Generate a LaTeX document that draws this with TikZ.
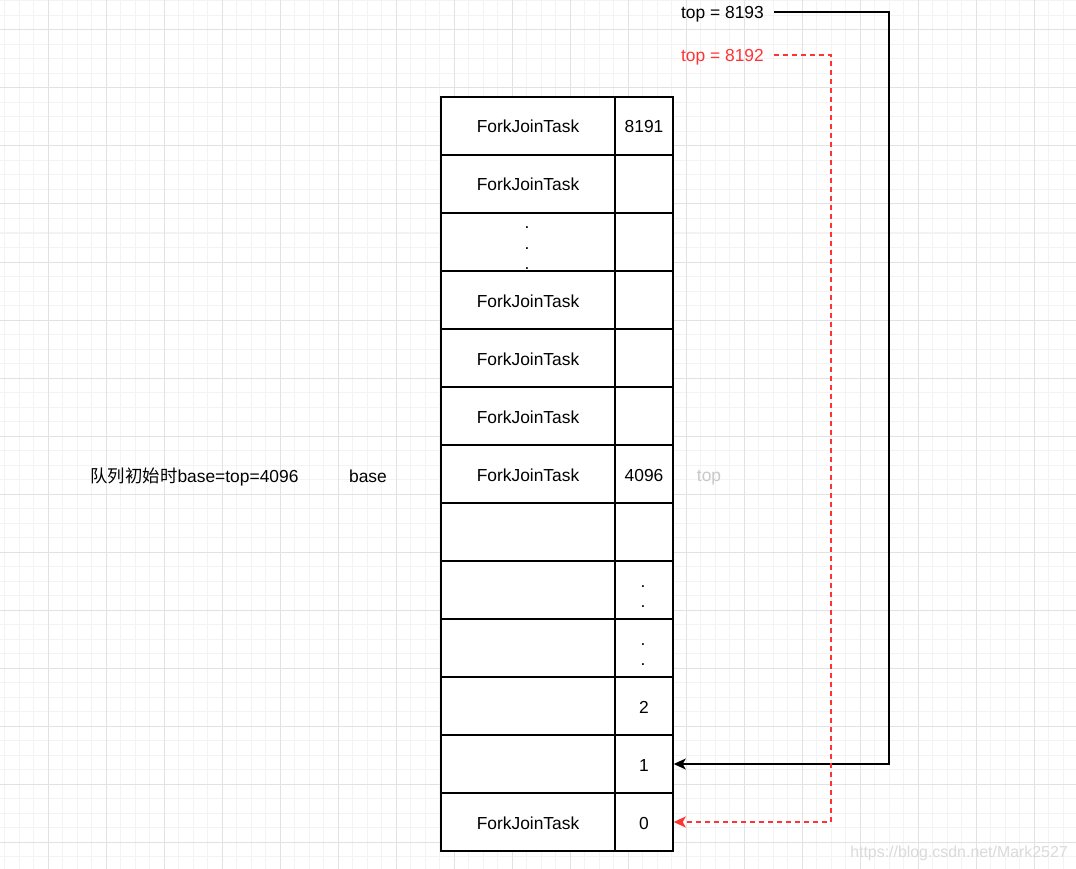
\documentclass[tikz,border=0pt]{standalone}
\usepackage{fontspec}
\setmainfont{Liberation Sans}
\newfontfamily\cjk{Noto Sans CJK SC}
\usetikzlibrary{arrows.meta}
\definecolor{gridminor}{HTML}{F3F3F3}
\definecolor{gridmajor}{HTML}{E2E2E2}
\definecolor{redline}{HTML}{FF3333}
\definecolor{faint}{HTML}{C8C8C8}
\definecolor{mark}{HTML}{DADADA}
\tikzset{
  cellL/.style={draw=black, line width=1.5pt, fill=white, minimum width=174pt, minimum height=58pt, inner sep=0pt},
  cellR/.style={draw=black, line width=1.5pt, fill=white, minimum width=58pt, minimum height=58pt, inner sep=0pt},
  lbl/.style={font=\fontsize{17.4}{20}\selectfont, inner sep=0pt, text height=14pt, text depth=0pt},
  dot/.style={font=\fontsize{17.4}{20}\selectfont, inner sep=0pt, anchor=base},
  blackarrow/.style={draw=black, line width=1.5pt, -{Stealth[length=12pt, width=11pt, inset=3pt]}},
  redarrow/.style={draw=redline, line width=1.5pt, dash pattern=on 5pt off 4pt, -{Stealth[length=12pt, width=11pt, inset=3pt, sep=0pt]}},
}
\begin{document}
\begin{tikzpicture}[x=1pt, y=-1pt]
\useasboundingbox (0,0) rectangle (1076,869);
\fill[white] (0,0) rectangle (1076,869);
% background grid
\foreach \i in {0,...,74} \draw[gridminor, line width=1pt] ({4.8+14.5*\i},0) -- ({4.8+14.5*\i},869);
\foreach \i in {0,...,59} \draw[gridminor, line width=1pt] (0,{1+14.5*\i}) -- (1076,{1+14.5*\i});
\foreach \i in {0,...,18} \draw[gridmajor, line width=1pt] ({48.3+58*\i},0) -- ({48.3+58*\i},869);
\foreach \i in {0,...,14} \draw[gridmajor, line width=1pt] (0,{30+58*\i}) -- (1076,{30+58*\i});

% deque array: left column (task slot), right column (index)
\foreach \r in {1,...,13} {
  \node[cellL] (L\r) at (528,{126+58*(\r-1)}) {};
  \node[cellR] (R\r) at (644,{126+58*(\r-1)}) {};
}
\node[lbl] (t1) at (L1) {ForkJoinTask};
\node[lbl] (t2) at (L2) {ForkJoinTask};
\node[lbl] (t4) at (L4) {ForkJoinTask};
\node[lbl] (t5) at (L5) {ForkJoinTask};
\node[lbl] (t6) at (L6) {ForkJoinTask};
\node[lbl] (t7) at (L7) {ForkJoinTask};
\node[lbl] (t13) at (L13) {ForkJoinTask};
\node[lbl] (n1) at (R1) {8191};
\node[lbl] (n7) at (R7) {4096};
\node[lbl] (n11) at (R11) {2};
\node[lbl] (n12) at (R12) {1};
\node[lbl] (n13) at (R13) {0};

% ellipsis dots
\node[dot] (da) at (527,229) {.};
\node[dot] (db) at (527,249) {.};
\node[dot] (dc) at (527,269.5) {.};
\node[dot] (dd) at (643,587) {.};
\node[dot] (de) at (643,607) {.};
\node[dot] (df) at (643,645) {.};
\node[dot] (dg) at (643,665) {.};

% side labels
\node[lbl] (init) at (194.5,475) {{\cjk 队列初始时}base=top=4096};
\node[lbl] (base) at (368,475) {base};
\node[dot, text=faint] (topfaint) at (709,481) {top};
\node[lbl, text=mark, font=\fontsize{15.9}{18}\selectfont] (wm) at (959,850) {https://blog.csdn.net/Mark2527};

% top pointers
\node[lbl, anchor=east, inner xsep=10pt] (top1) at (774,12) {top = 8193};
\node[lbl, anchor=east, inner xsep=10pt, text=redline] (top2) at (774,55) {top = 8192};
\coordinate (bx) at (889,0);
\coordinate (rx) at (831,0);
\draw[blackarrow] (top1.east) -| (bx |- R12.east) -- (R12.east);
\draw[redarrow] (top2.east) -| (rx |- R13.east) -- (R13.east);
\end{tikzpicture}
\end{document}
